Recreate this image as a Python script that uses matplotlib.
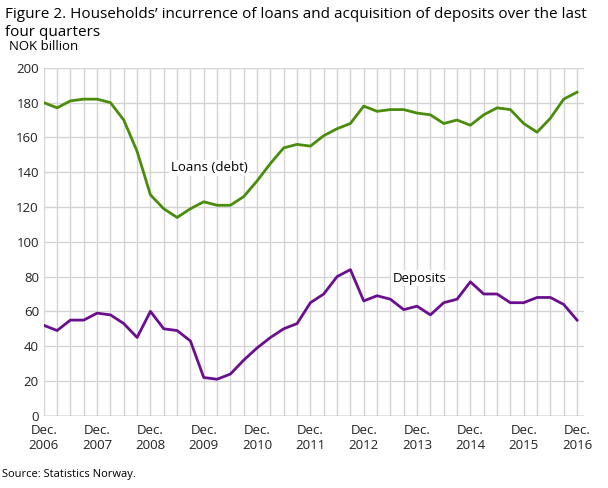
import matplotlib
matplotlib.use("Agg")
import matplotlib.pyplot as plt

plt.rcParams['font.family'] = ['Open Sans', 'DejaVu Sans']

loans = [180,177,181,182,182,180,170,152,127,119,114,119,123,121,121,126,135,145,154,156,155,161,165,168,178,175,176,176,174,173,168,170,167,173,177,176,168,163,171,182,186]
deposits = [52,49,55,55,59,58,53,45,60,50,49,43,22,21,24,32,39,45,50,53,65,70,80,84,66,69,67,61,63,58,65,67,77,70,70,65,65,68,68,64,55]
years = list(range(2006, 2017))
tick_labels = [f"Dec.\n{y}" for y in years]

x = list(range(len(loans)))
fig = plt.figure(figsize=(6.08, 4.88), dpi=100)
ax = fig.add_axes([0.072, 0.148, 0.888, 0.713])
ax.plot(x, loans, color='#4a8c0c', lw=2, zorder=3)
ax.plot(x, deposits, color='#6a0f8e', lw=2, zorder=3)
ax.set_xlim(0, 40.5)
ax.set_ylim(0, 200)
ax.set_yticks(range(0, 201, 20))
ax.set_xticks(x, minor=True)
ax.set_xticks(range(0, 41, 4))
ax.set_xticklabels(tick_labels)
ax.grid(True, which='both', color='#d4d4d4', lw=1, zorder=0)
ax.tick_params(which='both', length=0, labelsize=9.5, colors='#222222')
ax.tick_params(axis='x', pad=6)
for s in ax.spines.values():
    s.set_visible(False)
ax.axhline(0, color='#999999', lw=1)
ax.text(12.4, 142.5, 'Loans (debt)', ha='center', va='center', fontsize=9.5, zorder=2,
        bbox=dict(facecolor='white', edgecolor='none', pad=1))
ax.text(28.2, 79, 'Deposits', ha='center', va='center', fontsize=9.5, zorder=2,
        bbox=dict(facecolor='white', edgecolor='none', pad=1))
fig.text(0.008, 0.985, "Figure 2. Households’ incurrence of loans and acquisition of deposits over the last\nfour quarters",
         ha='left', va='top', fontsize=11, linespacing=1.25)
fig.text(0.015, 0.905, 'NOK billion', fontsize=9.5, va='center')
fig.text(0.003, 0.016, 'Source: Statistics Norway.', fontsize=8, va='bottom')
fig.savefig('out.png', dpi=100)
